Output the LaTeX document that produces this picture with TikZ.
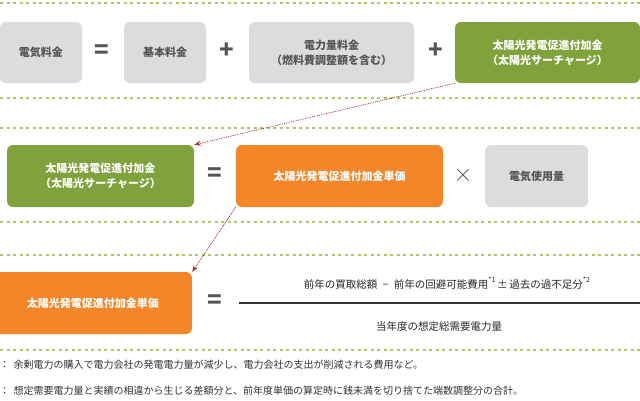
\documentclass[tikz,border=0pt]{standalone}
\usepackage{fontspec}
\setmainfont{Noto Sans CJK JP}
\usetikzlibrary{arrows.meta}
\definecolor{boxgray}{HTML}{DCDCDC}
\definecolor{boxgreen}{HTML}{7FA23C}
\definecolor{boxorange}{HTML}{F4862A}
\definecolor{sepgreen}{HTML}{A8C86A}
\definecolor{arrowred}{HTML}{A0302A}
\definecolor{txtgray}{HTML}{555555}

\begin{document}
\begin{tikzpicture}[x=1pt,y=-1pt,>=Stealth,
  box/.style={rounded corners=6pt,inner sep=0pt,align=center,font=\bfseries\fontsize{11}{15}\selectfont},
  gray box/.style={box,fill=boxgray,text=txtgray},
  green box/.style={box,fill=boxgreen,text=white},
  orange box/.style={box,fill=boxorange,text=white},
  op sign/.style={text=txtgray,font=\bfseries\fontsize{24}{24}\selectfont},
  sep line/.style={sepgreen,line width=2pt,dash pattern=on 3pt off 3.5pt},
  link/.style={->,arrowred,thick,densely dotted}]
 \useasboundingbox (0,0) rectangle (640,400);

 % separators
 \foreach \y in {3,98,128,222,255,350}
    \draw[sep line] (0,\y) -- (640,\y);

 % row 1
 \node[gray box,minimum width=82pt,minimum height=61pt] (fee) at (41,52.5) {電気料金};
 \node[op sign] (eq a) at (102,52) {=};
 \node[gray box,minimum width=82pt,minimum height=61pt] (base) at (165,52.5) {基本料金};
 \node[op sign] (plus a) at (227,51) {+};
 \node[gray box,minimum width=165pt,minimum height=61pt] (energy) at (331.5,52.5) {電力量料金\\（燃料費調整額を含む）};
 \node[op sign] (plus b) at (436,51) {+};
 \node[green box,minimum width=185pt,minimum height=61pt] (surcharge) at (547.5,52.5) {太陽光発電促進付加金\\（太陽光サーチャージ）};

 % row 2
 \node[green box,minimum width=187pt,minimum height=62pt] (surcharge b) at (100.5,176) {太陽光発電促進付加金\\（太陽光サーチャージ）};
 \node[op sign] (eq b) at (215,175) {=};
 \node[orange box,minimum width=207pt,minimum height=62pt] (unit) at (339.5,176) {太陽光発電促進付加金単価};
 \node[op sign] (times) at (463,175) {$\times$};
 \node[gray box,minimum width=103pt,minimum height=62pt] (usage) at (536.5,176) {電気使用量};

 % row 3
 \node[orange box,minimum width=198pt,minimum height=62pt] (unit b) at (93,303) {太陽光発電促進付加金単価};
 \node[op sign] (eq c) at (215,302) {=};
 \coordinate (bar l) at (239,303);
 \coordinate (bar r) at (640,303);
 \draw[black!80,line width=1.2pt] (bar l) -- (bar r);
 \node[font=\fontsize{10.5}{12}\selectfont,text=black!85] (num) at (447,283)
    {前年の買取総額\enspace −\enspace 前年の回避可能費用\raisebox{1.1ex}{\scriptsize *1}\,±\,過去の過不足分\raisebox{1.1ex}{\scriptsize *2}};
 \node[font=\fontsize{10.5}{12}\selectfont,text=black!85] (den) at (439,327) {当年度の想定総需要電力量};

 % links
 \draw[link] (surcharge.south west) -- (surcharge b.north east);
 \draw[link] (unit.south west) -- (unit b.north east);

 % notes
 \node[anchor=west,font=\fontsize{10}{12}\selectfont,text=black!80] (note a) at (-4,365) {：\hspace{4pt}余剰電力の購入で電力会社の発電電力量が減少し、電力会社の支出が削減される費用など。};
 \node[anchor=west,font=\fontsize{10}{12}\selectfont,text=black!80] (note b) at (-4,391) {：\hspace{4pt}想定需要電力量と実績の相違から生じる差額分と、前年度単価の算定時に銭未満を切り捨てた端数調整分の合計。};
\end{tikzpicture}
\end{document}
